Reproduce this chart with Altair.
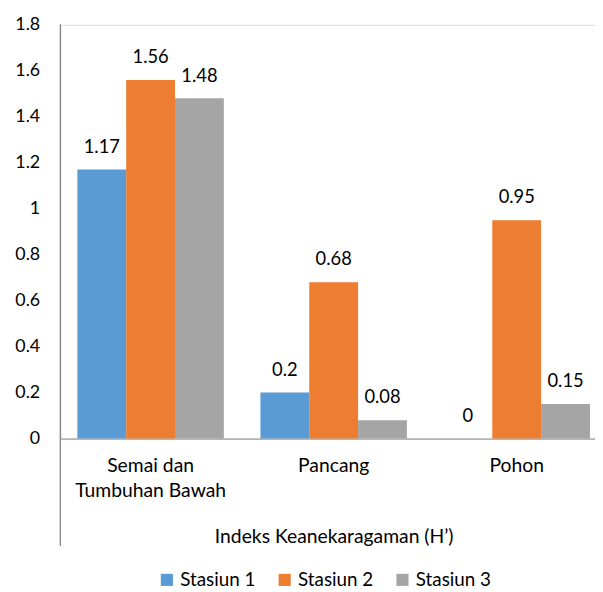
import altair as alt
import pandas as pd

categories = ["Semai dan|Tumbuhan Bawah", "Pancang", "Pohon"]
series = ["Stasiun 1", "Stasiun 2", "Stasiun 3"]
stasiun1 = [1.17, 0.2, 0]
stasiun2 = [1.56, 0.68, 0.95]
stasiun3 = [1.48, 0.08, 0.15]
label1 = ["1.17", "0.2", "0"]
label2 = ["1.56", "0.68", "0.95"]
label3 = ["1.48", "0.08", "0.15"]
colors = ["#5B9BD5", "#ED7D31", "#A5A5A5"]
y_ticks = [0, 0.2, 0.4, 0.6, 0.8, 1, 1.2, 1.4, 1.6, 1.8]

rows = []
for vals, labs, s in [(stasiun1, label1, series[0]), (stasiun2, label2, series[1]), (stasiun3, label3, series[2])]:
    for c, v, l in zip(categories, vals, labs):
        rows.append({"kategori": c, "stasiun": s, "nilai": v, "label": l})
df = pd.DataFrame(rows)

FONT = "Lato"
FS = 18
FT = 19.5

x_enc = alt.X("kategori:N", sort=categories,
              scale=alt.Scale(paddingInner=0.2, paddingOuter=0.06, align=0.77),
              axis=alt.Axis(title="Indeks Keanekaragaman (H\u2019)", labelAngle=0,
                            labelExpr="split(datum.label, '|')", labelLineHeight=26,
                            labelFontSize=FT, labelPadding=18, labelBaseline="top",
                            ticks=False, domainColor="#898989", titleFontSize=FT,
                            titleFontWeight="normal", titlePadding=27, titleX=276,
                            labelColor="#000000", titleColor="#000000"))
xo_enc = alt.XOffset("stasiun:N", sort=series)
y_enc = alt.Y("nilai:Q", scale=alt.Scale(domain=[0, 1.8], nice=False),
              axis=alt.Axis(title=None, values=y_ticks, format="~g", grid=False,
                            ticks=False, domain=False, labelFontSize=FS,
                            labelPadding=21, labelColor="#000000"))

bars = alt.Chart(df).mark_bar().encode(
    x=x_enc, xOffset=xo_enc, y=y_enc,
    color=alt.Color("stasiun:N", sort=series,
                    scale=alt.Scale(domain=series, range=colors),
                    legend=alt.Legend(title=None, orient="none", direction="horizontal",
                                      legendX=98, legendY=551, symbolType="square",
                                      symbolSize=150, symbolStrokeWidth=0,
                                      labelFontSize=19, columnPadding=19,
                                      labelColor="#000000", labelLimit=200))
)

text = alt.Chart(df).mark_text(baseline="alphabetic", dy=-17, fontSize=18.5,
                               color="#000000", font=FONT).encode(
    x=alt.X("kategori:N", sort=categories), xOffset=xo_enc,
    y=alt.Y("nilai:Q"), text="label:N"
)

axis_line = alt.Chart(df).mark_rule(color="#898989", strokeWidth=1).encode(
    x=alt.value(0), y=alt.value(0), y2=alt.value(526)
)

chart = alt.layer(bars, text, axis_line).properties(
    width=540, height=418,
    autosize=alt.AutoSizeParams(type="none"),
    padding={"left": 53, "top": 14, "right": 0, "bottom": 150},
).configure_view(stroke=None).configure(font=FONT)

chart.save("out.html", embed_options={"renderer": "svg", "actions": False})
